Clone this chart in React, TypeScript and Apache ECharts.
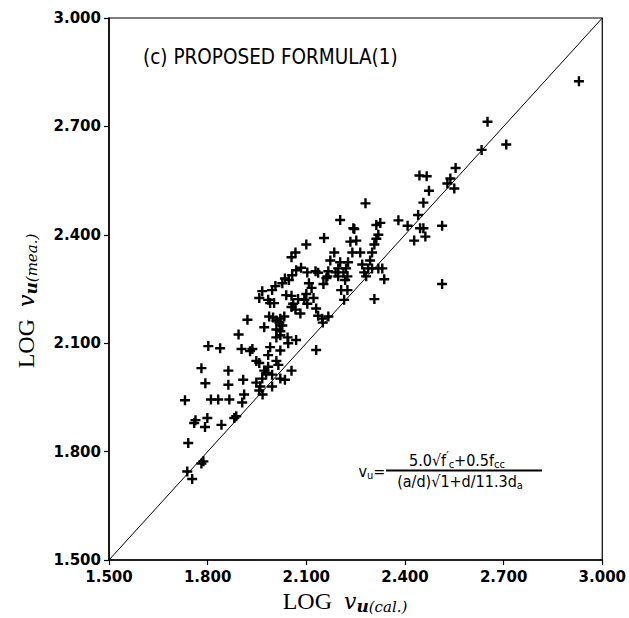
import React, { useEffect, useRef } from "react";
import * as echarts from "echarts";

// LOG v_u(cal.) values
const xCal = [
  1.731, 1.741, 1.738, 1.753, 1.781, 1.793, 1.802, 1.763, 1.759, 1.799,
  1.792, 1.810, 1.832, 1.838, 1.863, 1.863, 1.866, 1.842, 1.881, 1.887,
  1.781, 1.787, 1.894, 1.921, 1.903, 1.908, 1.911, 1.905, 1.929, 1.936,
  1.948, 1.957, 1.960, 1.966, 1.972, 1.948, 1.957, 1.967, 1.972, 1.978,
  1.984, 1.990, 1.984, 1.996, 2.009, 2.021, 1.996, 2.021, 2.035, 2.015,
  2.055, 2.069, 2.043, 2.021, 2.009, 2.045, 1.957, 1.966, 1.990, 2.002,
  1.987, 1.999, 2.009, 2.018, 2.021, 2.033, 2.027, 2.009, 2.021, 2.039,
  2.055, 2.060, 2.067, 2.055, 2.075, 2.082, 2.094, 2.100, 2.108, 2.103,
  2.116, 2.122, 2.130, 2.136, 2.148, 2.167, 2.150, 2.152, 2.161, 2.164,
  2.167, 2.136, 2.128, 2.103, 2.084, 2.069, 2.057, 2.047, 2.035, 2.027,
  2.006, 1.996, 1.984, 2.100, 2.067, 2.055, 2.154, 2.173, 2.185, 2.197,
  2.206, 2.215, 2.225, 2.213, 2.221, 2.227, 2.240, 2.234, 2.252, 2.246,
  2.264, 2.270, 2.276, 2.282, 2.288, 2.294, 2.300, 2.307, 2.313, 2.319,
  2.313, 2.325, 2.300, 2.319, 2.331, 2.337, 2.307, 2.203, 2.243, 2.280,
  2.218, 2.225, 2.189, 2.197, 2.203, 2.380, 2.408, 2.428, 2.440, 2.446,
  2.462, 2.456, 2.513, 2.513, 2.444, 2.466, 2.456, 2.473, 2.538, 2.529,
  2.550, 2.554, 2.633, 2.651, 2.708, 2.929, 2.130,
];

// LOG v_u(mea.) values
const yMea = [
  1.942, 1.824, 1.745, 1.724, 2.031, 1.989, 2.092, 1.887, 1.879, 1.893,
  1.868, 1.944, 1.944, 2.086, 2.024, 1.985, 1.944, 1.874, 1.893, 1.898,
  1.767, 1.773, 2.124, 2.165, 2.084, 1.999, 1.958, 1.936, 2.078, 2.084,
  1.991, 1.969, 1.980, 2.002, 2.144, 2.051, 2.045, 1.958, 2.024, 2.018,
  2.067, 2.089, 2.035, 1.980, 2.051, 2.080, 2.013, 2.002, 1.999, 2.040,
  2.024, 2.109, 2.116, 2.122, 2.116, 2.100, 2.225, 2.244, 2.211, 2.211,
  2.174, 2.171, 2.163, 2.157, 2.168, 2.174, 2.149, 2.138, 2.133, 2.233,
  2.231, 2.209, 2.193, 2.200, 2.222, 2.182, 2.220, 2.236, 2.266, 2.209,
  2.253, 2.225, 2.196, 2.176, 2.168, 2.174, 2.157, 2.264, 2.280, 2.285,
  2.299, 2.295, 2.299, 2.296, 2.309, 2.302, 2.288, 2.275, 2.279, 2.266,
  2.258, 2.247, 2.220, 2.373, 2.351, 2.338, 2.391, 2.329, 2.351, 2.285,
  2.247, 2.220, 2.247, 2.296, 2.307, 2.324, 2.351, 2.381, 2.384, 2.416,
  2.351, 2.318, 2.296, 2.285, 2.307, 2.329, 2.351, 2.373, 2.389, 2.400,
  2.427, 2.433, 2.307, 2.307, 2.307, 2.277, 2.222, 2.441, 2.418, 2.487,
  2.275, 2.285, 2.296, 2.307, 2.324, 2.440, 2.425, 2.384, 2.455, 2.418,
  2.395, 2.418, 2.425, 2.264, 2.564, 2.562, 2.489, 2.522, 2.556, 2.542,
  2.528, 2.585, 2.635, 2.713, 2.650, 2.825, 2.081,
];

// 45-degree reference line
const diagonalX = [1.5, 3.0];
const diagonalY = [1.5, 3.0];

const axisMin = 1.5;
const axisMax = 3.0;
const axisStep = 0.3;

const titleText = "(c) PROPOSED FORMULA(1)";

const plusSymbol =
  "path://M3.8,0H6.2V3.8H10V6.2H6.2V10H3.8V6.2H0V3.8H3.8Z";

export default function App() {
  const ref = useRef<HTMLDivElement>(null);

  useEffect(() => {
    document.body.style.margin = "0";
    if (!ref.current) return;
    const chart = echarts.init(ref.current, undefined, { renderer: "svg" });

    const points = xCal.map((x, i) => [x, yMea[i]]);
    const diag = diagonalX.map((x, i) => [x, diagonalY[i]]);

    const tickLabel = {
      fontFamily: "DejaVu Sans",
      fontWeight: "bold" as const,
      fontSize: 15,
      color: "#000",
      formatter: (v: number) => v.toFixed(3),
    };

    const serifMain = {
      fontFamily: "Liberation Serif",
      fontSize: 24,
      lineHeight: 26,
      color: "#000",
    };
    const italicV = {
      fontFamily: "DejaVu Serif",
      fontStyle: "italic" as const,
      fontSize: 22,
      lineHeight: 26,
      color: "#000",
    };
    const subU = {
      fontFamily: "DejaVu Serif",
      fontStyle: "italic" as const,
      fontWeight: "bold" as const,
      fontSize: 17,
      lineHeight: 14,
      verticalAlign: "bottom" as const,
      color: "#000",
    };
    const subC = {
      fontFamily: "DejaVu Serif",
      fontStyle: "italic" as const,
      fontSize: 15,
      lineHeight: 14,
      verticalAlign: "bottom" as const,
      color: "#000",
    };
    const titleRich = { L: serifMain, v: italicV, s: subU, c: subC };

    const fF = "DejaVu Sans Condensed, Liberation Sans Narrow, DejaVu Sans";
    const fm = { fontFamily: fF, fontSize: 16, lineHeight: 20, color: "#000" };
    const fsub = {
      fontFamily: fF,
      fontSize: 11,
      lineHeight: 10,
      verticalAlign: "bottom" as const,
      color: "#000",
    };
    const fsup = {
      fontFamily: fF,
      fontSize: 12,
      lineHeight: 12,
      verticalAlign: "top" as const,
      color: "#000",
    };
    const formulaRich = { m: fm, b: fsub, t: fsup };

    chart.setOption({
      animation: false,
      backgroundColor: "#fff",
      grid: {
        left: 109,
        right: 25,
        top: 18,
        bottom: 58,
        show: true,
        borderColor: "#000",
        borderWidth: 1.2,
        backgroundColor: "transparent",
      },
      xAxis: {
        type: "value",
        min: axisMin,
        max: axisMax,
        interval: axisStep,
        axisLine: { show: true, lineStyle: { color: "#000", width: 1.5 } },
        axisTick: { show: true, inside: false, length: 5, lineStyle: { color: "#000", width: 1.2 } },
        splitLine: { show: false },
        axisLabel: { ...tickLabel, margin: 9 },
      },
      yAxis: {
        type: "value",
        min: axisMin,
        max: axisMax,
        interval: axisStep,
        axisLine: { show: true, lineStyle: { color: "#000", width: 1.5 } },
        axisTick: { show: true, inside: false, length: 5, lineStyle: { color: "#000", width: 1.2 } },
        splitLine: { show: false },
        axisLabel: { ...tickLabel, margin: 8 },
      },
      series: [
        {
          type: "line",
          data: diag,
          symbol: "none",
          lineStyle: { color: "#000", width: 1 },
          silent: true,
          z: 1,
        },
        {
          type: "scatter",
          data: points,
          symbol: plusSymbol,
          symbolSize: 10,
          itemStyle: { color: "#000", opacity: 1 },
          z: 2,
        },
      ],
      graphic: [
        {
          type: "text",
          left: 143,
          top: 46,
          style: {
            text: titleText,
            fontFamily: fF,
            fontSize: 20.5,
            fill: "#000",
          },
        },
        {
          type: "text",
          x: 345,
          y: 601,
          style: {
            text: "{L|LOG}{L|  }{v|v}{s|u}{c|(cal.)}",
            rich: titleRich,
            align: "center",
            verticalAlign: "middle",
          },
        },
        {
          type: "text",
          x: 26,
          y: 301,
          rotation: Math.PI / 2,
          style: {
            text: "{L|LOG}{L|  }{v|v}{s|u}{c|(mea.)}",
            rich: titleRich,
            align: "center",
            verticalAlign: "middle",
          },
        },
        {
          type: "text",
          x: 372,
          y: 471,
          style: {
            text: "{m|v}{b|u}{m|=}",
            rich: formulaRich,
            align: "center",
            verticalAlign: "middle",
          },
        },
        {
          type: "text",
          x: 457,
          y: 460,
          style: {
            text: "{m|5.0√f}{t|′}{b|c}{m|+0.5f}{b|cc}",
            rich: formulaRich,
            align: "center",
            verticalAlign: "middle",
          },
        },
        {
          type: "line",
          shape: { x1: 386, y1: 470.5, x2: 542, y2: 470.5 },
          style: { stroke: "#000", lineWidth: 2 },
        },
        {
          type: "text",
          x: 460,
          y: 481,
          style: {
            text: "{m|(a/d)√1+d/11.3d}{b|a}",
            rich: formulaRich,
            align: "center",
            verticalAlign: "middle",
          },
        },
      ],
    });

    return () => chart.dispose();
  }, []);

  return <div ref={ref} style={{ width: 629, height: 618 }} />;
}
